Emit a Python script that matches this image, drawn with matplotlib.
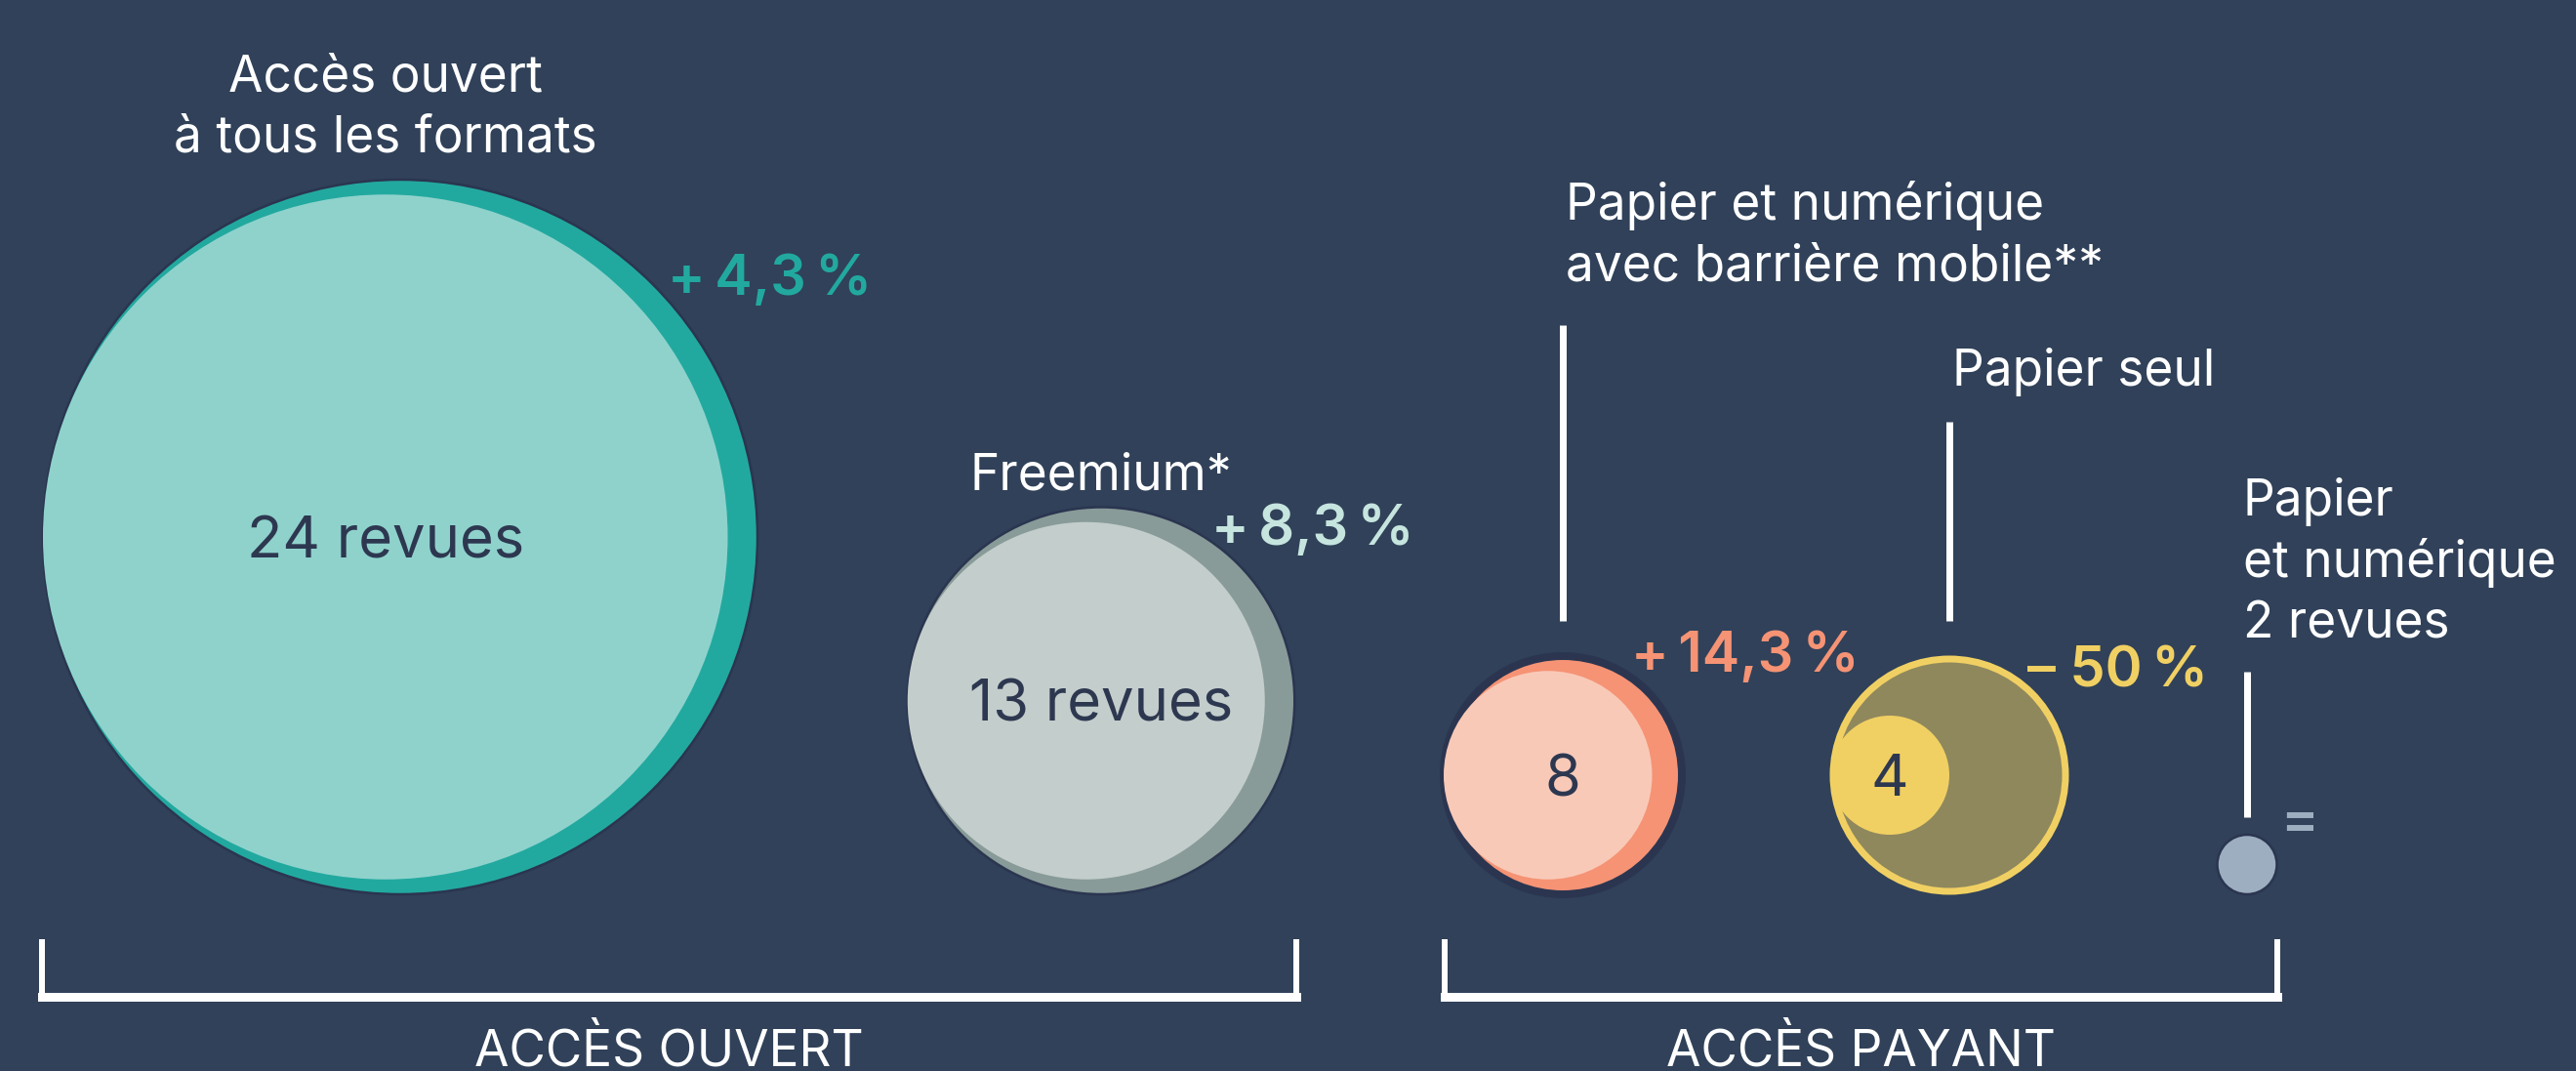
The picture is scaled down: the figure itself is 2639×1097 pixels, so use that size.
""" Nombre de revues par modèle d'accès, avec l'évolution sur un an """

import matplotlib.pyplot as plt
from matplotlib.patches import Circle

plt.rcParams['font.family'] = ['Inter', 'DejaVu Sans']

# Data ------------------------------------------------------------
categories = ['Accès ouvert\nà tous les formats',
              'Freemium*',
              'Papier et numérique\navec barrière mobile**',
              'Papier seul',
              'Papier\net numérique\n2 revues']
current = [24, 13, 8, 4, 2]
previous = [23, 12, 7, 8, 2]
changes = ['+\u202f4,3\u202f%', '+\u202f8,3\u202f%', '+\u202f14,3\u202f%',
           '\u2013 50\u202f%', '=']
value_labels = ['24 revues', '13 revues', '8', '4', '']
groups = ['ACCÈS OUVERT', 'ACCÈS PAYANT']

# Colours ---------------------------------------------------------
bg = '#304159'
edge_dark = '#2b3550'
text_dark = '#2d3850'
outer_colors = ['#22a99f', '#889b98', '#f59374', '#8f885d', '#9daec0']
inner_colors = ['#8fd2cc', '#c3cdcb', '#f9c9b8', '#f1d063', '#9daec0']
change_colors = ['#22a99f', '#c6e5df', '#f59374', '#f1d063', '#9daec0']

# Layout (pixels of the output image) -----------------------------
W, H = 2639, 1097
unit = 15.25                 # pixels of radius per revue
ground = 916                 # all circles sit on this line
cx = [410, 1128, 1601, 1997, 2302]
value_on_inner = [True, False, False, True, False]
label_pos = [(395, 93, 'center'), (1128, 502, 'center'), (1604, 225, 'left'),
             (2000, 395, 'left'), (2298, 528, 'left')]
line_step = 63
change_pos = [(684, 302), (1241, 558), (1671, 688), (2077, 703), (2336, 858)]
leaders = [None, None, (333, 636), (432, 636), (688, 837)]
brackets = [(43, 1328), (1480, 2333)]
bracket_y, bracket_top = 1021, 962

PX = 0.72                    # points per pixel at dpi 100

fig = plt.figure(figsize=(W / 100, H / 100), dpi=100)
fig.patch.set_facecolor(bg)
ax = fig.add_axes([0, 0, 1, 1])
ax.set_xlim(0, W)
ax.set_ylim(H, 0)
ax.axis('off')

for i, cat in enumerate(categories):
    big, small = max(current[i], previous[i]), min(current[i], previous[i])
    R, r = unit * big, unit * small
    cy = ground - R
    declining = current[i] < previous[i]

    if declining:
        ax.add_patch(Circle((cx[i], cy), R - 3, facecolor=outer_colors[i],
                            edgecolor=inner_colors[i], lw=7 * PX, zorder=2))
    else:
        edge_w = 8 if i == 2 else 2.5
        ax.add_patch(Circle((cx[i], cy), R, facecolor=outer_colors[i],
                            edgecolor=edge_dark, lw=edge_w * PX, zorder=2))
    if small != big:
        icx = cx[i] - (R - r)
        ax.add_patch(Circle((icx, cy), r, facecolor=inner_colors[i],
                            edgecolor='none', zorder=3))
    else:
        icx = cx[i]

    # value inside the circle
    if value_labels[i]:
        vx = icx if value_on_inner[i] else cx[i]
        ax.text(vx, cy + 21, value_labels[i], ha='center', va='baseline',
                fontsize=43, color=text_dark, zorder=4)

    # category label, line by line
    lx, ly, ha = label_pos[i]
    for k, line in enumerate(cat.split('\n')):
        ax.text(lx, ly + k * line_step, line, ha=ha, va='baseline',
                fontsize=37, color='white')

    # change since last year
    px, py = change_pos[i]
    ax.text(px, py, changes[i], ha='left', va='baseline', fontsize=41.5,
            fontweight='semibold', color=change_colors[i])

    # leader line
    if leaders[i]:
        ax.plot([cx[i], cx[i]], leaders[i], color='white', lw=7 * PX,
                solid_capstyle='butt')

# group brackets
for (x0, x1), name in zip(brackets, groups):
    ax.plot([x0, x1], [bracket_y, bracket_y], color='white', lw=9 * PX,
            solid_capstyle='projecting')
    for x in (x0, x1):
        ax.plot([x, x], [bracket_top, bracket_y], color='white', lw=6 * PX,
                solid_capstyle='butt')
    ax.text((x0 + x1) / 2, 1092, name, ha='center', va='baseline',
            fontsize=37, color='white')

fig.savefig('out.png', dpi=100, facecolor=bg)
